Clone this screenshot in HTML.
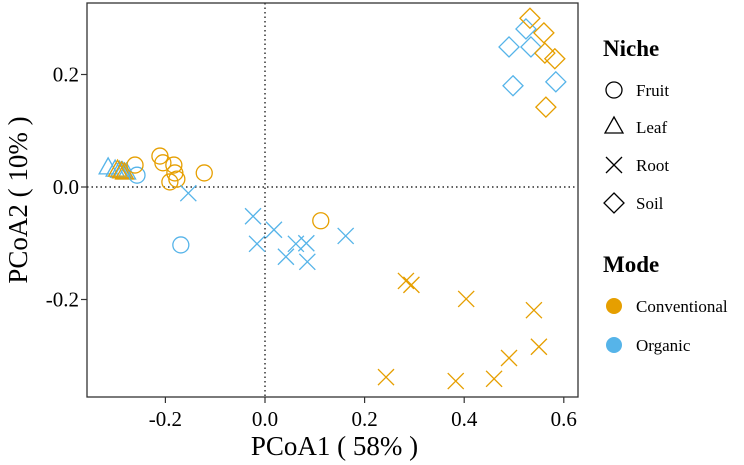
<!DOCTYPE html>
<html><head><meta charset="utf-8"><style>
body{margin:0;background:#fff;}
svg{display:block;font-family:"Liberation Serif",serif;}
</style></head><body>
<svg id="chart" width="744" height="465">
<g id="axes"></g><g id="pts"></g><g id="legend"></g>
</svg>
<script>
const fruitConvX=[-0.261,-0.211,-0.205,-0.183,-0.181,-0.177,-0.191,-0.122,0.112];
const fruitConvY=[0.039,0.055,0.043,0.039,0.025,0.014,0.009,0.025,-0.060];
const fruitOrgX=[-0.257,-0.169];
const fruitOrgY=[0.021,-0.103];
const leafConvX=[-0.296,-0.288,-0.282];
const leafConvY=[0.030,0.027,0.025];
const leafOrgX=[-0.315,-0.301,-0.292,-0.286,-0.278];
const leafOrgY=[0.034,0.030,0.028,0.027,0.025];
const rootOrgX=[-0.154,-0.024,-0.016,0.018,0.062,0.042,0.083,0.085,0.162];
const rootOrgY=[-0.011,-0.052,-0.101,-0.076,-0.101,-0.124,-0.100,-0.133,-0.087];
const rootConvX=[0.283,0.294,0.404,0.540,0.550,0.490,0.460,0.383,0.243];
const rootConvY=[-0.167,-0.174,-0.199,-0.219,-0.284,-0.304,-0.341,-0.345,-0.338];
const soilConvX=[0.532,0.560,0.562,0.582,0.564];
const soilConvY=[0.300,0.274,0.238,0.228,0.142];
const soilOrgX=[0.524,0.490,0.534,0.498,0.584];
const soilOrgY=[0.281,0.249,0.249,0.180,0.187];
const xTicks=[-0.2,0.0,0.2,0.4,0.6];
const yTicks=[-0.2,0.0,0.2];
const xTickLabels=["-0.2","0.0","0.2","0.4","0.6"];
const yTickLabels=["-0.2","0.0","0.2"];

const NS="http://www.w3.org/2000/svg";
const L=87,R=578,T=3,B=397;
const sx=v=>265+v*498, sy=v=>187-v*562.5;
const ORG="#E69F00", BLU="#56B4E9";
function mk(tag,attrs,parent){const e=document.createElementNS(NS,tag);for(const k in attrs)e.setAttribute(k,attrs[k]);parent.appendChild(e);return e;}
const axes=document.getElementById('axes'), pts=document.getElementById('pts'), lg=document.getElementById('legend');
let e;
e=mk('line',{x1:sx(0),x2:sx(0),y1:T,y2:B,stroke:'#000','stroke-dasharray':'1.5,3','stroke-width':1.2},axes);

e=mk('line',{x1:L,x2:R,y1:sy(0),y2:sy(0),stroke:'#000','stroke-dasharray':'1.5,3','stroke-width':1.2},axes);

e=mk('rect',{x:L,y:T,width:R-L,height:B-T,fill:'none',stroke:'#333','stroke-width':1.3},axes);

xTicks.forEach((v,i)=>{
 mk('line',{x1:sx(v),x2:sx(v),y1:B,y2:B+6,stroke:'#333','stroke-width':1.2},axes);
 e=mk('text',{x:sx(v),y:B+29,'text-anchor':'middle','font-size':21},axes);e.textContent=xTickLabels[i];
 
});
yTicks.forEach((v,i)=>{
 mk('line',{x1:L-6,x2:L,y1:sy(v),y2:sy(v),stroke:'#333','stroke-width':1.2},axes);
 e=mk('text',{x:L-8,y:sy(v)+7,'text-anchor':'end','font-size':21},axes);e.textContent=yTickLabels[i];
 
});
e=mk('text',{x:(L+R)/2+2,y:455,'text-anchor':'middle','font-size':27},axes);e.textContent='PCoA1 ( 58% )';

e=mk('text',{x:0,y:0,'text-anchor':'middle','font-size':27,transform:`translate(27,${(T+B)/2}) rotate(-90)`},axes);e.textContent='PCoA2 ( 10% )';


function shape(kind,cx,cy,col,parent,fill){
 const st={fill:fill||'none',stroke:col,'stroke-width':1.3};
 if(kind==='circle')return mk('circle',Object.assign({cx,cy,r:8},st),parent);
 if(kind==='tri')return mk('polygon',Object.assign({points:`${cx},${cy-10} ${cx-9},${cy+6} ${cx+9},${cy+6}`},st),parent);
 if(kind==='diamond')return mk('polygon',Object.assign({points:`${cx},${cy-10} ${cx+10},${cy} ${cx},${cy+10} ${cx-10},${cy}`},st),parent);
 if(kind==='x')return mk('path',Object.assign({d:`M${cx-8},${cy-8}L${cx+8},${cy+8}M${cx-8},${cy+8}L${cx+8},${cy-8}`},st),parent);
}
function series(xs,ys,kind,col,name){
 xs.forEach((x,i)=>{const p=shape(kind,sx(x),sy(ys[i]),col,pts);
  
  });
}
series(leafOrgX,leafOrgY,'tri',BLU,'leaf-organic-point');
series(leafConvX,leafConvY,'tri',ORG,'leaf-conventional-point');
series(fruitOrgX,fruitOrgY,'circle',BLU,'fruit-organic-point');
series(fruitConvX,fruitConvY,'circle',ORG,'fruit-conventional-point');
series(rootOrgX,rootOrgY,'x',BLU,'root-organic-point');
series(rootConvX,rootConvY,'x',ORG,'root-conventional-point');
series(soilOrgX,soilOrgY,'diamond',BLU,'soil-organic-point');
series(soilConvX,soilConvY,'diamond',ORG,'soil-conventional-point');

e=mk('text',{x:603,y:56,'font-size':23,'font-weight':'bold'},lg);e.textContent='Niche';

[['circle','Fruit',90],['tri','Leaf',127],['x','Root',165],['diamond','Soil',203]].forEach(([k,t,y])=>{
 const g=mk('g',{},lg);
 
 
 shape(k,614,y,'#000',g);
 const tx=mk('text',{x:636,y:y+6,'font-size':17},g);tx.textContent=t;
});
e=mk('text',{x:603,y:272,'font-size':23,'font-weight':'bold'},lg);e.textContent='Mode';

[[ORG,'Conventional',306],[BLU,'Organic',345]].forEach(([c,t,y])=>{
 const g=mk('g',{},lg);
 
 
 mk('circle',{cx:614,cy:y,r:8,fill:c},g);
 const tx=mk('text',{x:636,y:y+6,'font-size':17},g);tx.textContent=t;
});
</script>
</body></html>
